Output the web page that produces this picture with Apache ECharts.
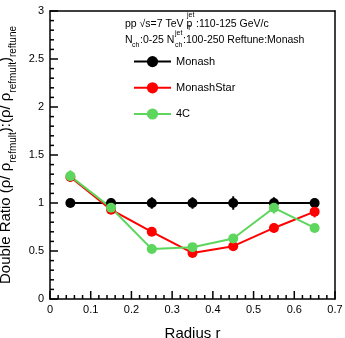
<!DOCTYPE html>
<html>
<head>
<meta charset="utf-8">
<script src="https://cdn.jsdelivr.net/npm/echarts@6/dist/echarts.min.js"></script>
<style>
  html, body { margin: 0; padding: 0; background: #fff; }
  #chart { width: 345px; height: 338px; }
</style>
</head>
<body>
<div id="chart"></div>
<script>
// radius bin centres
const radius = [0.05, 0.15, 0.25, 0.35, 0.45, 0.55, 0.65]

const monash = [1.0, 1.0, 1.0, 1.0, 1.0, 1.0, 1.0]
const monashErr = [0.03, 0.05, 0.06, 0.06, 0.07, 0.06, 0.05]

const monashStar = [1.27, 0.93, 0.70, 0.48, 0.55, 0.74, 0.91]
const monashStarErr = [0.05, 0.04, 0.03, 0.04, 0.04, 0.05, 0.06]

const fourC = [1.28, 0.95, 0.52, 0.54, 0.63, 0.95, 0.74]
const fourCErr = [0.06, 0.04, 0.03, 0.03, 0.04, 0.06, 0.04]

// major tick values (labels come from the axes)
const xTicks = [0, 0.1, 0.2, 0.3, 0.4, 0.5, 0.6, 0.7]
const yTicks = [0, 0.5, 1, 1.5, 2, 2.5, 3]
const xMinorDiv = 5
const yMinorDiv = 5

const font = 'Liberation Sans, Arial, sans-serif'

const chart = echarts.init(document.getElementById('chart'))

function points(ys) {
  return radius.map((x, i) => [x, ys[i]])
}

function errorBars(name, ys, errs, color) {
  return {
    name: name + ' err',
    type: 'custom',
    z: 1,
    silent: true,
    data: radius.map((x, i) => [x, ys[i], errs[i]]),
    encode: { x: 0, y: 1 },
    renderItem(params, api) {
      const x = api.value(0), y = api.value(1), e = api.value(2)
      const lo = api.coord([x, y - e])
      const hi = api.coord([x, y + e])
      return {
        type: 'line',
        shape: { x1: lo[0], y1: lo[1], x2: hi[0], y2: hi[1] },
        style: { stroke: color, lineWidth: 2 }
      }
    }
  }
}

function lineSeries(name, ys, color) {
  return {
    name: name,
    type: 'line',
    z: 3,
    data: points(ys),
    symbol: 'circle',
    symbolSize: 10,
    lineStyle: { color: color, width: 2 },
    itemStyle: { color: color },
    emphasis: { disabled: true },
    animation: false
  }
}

// ROOT-style inward ticks: [x, y, length, dir] dir 0 = on x axis, 1 = on y axis
const tickData = []
xTicks.forEach((v, i) => {
  tickData.push([v, 0, 8, 0])
  if (i < xTicks.length - 1) {
    const step = (xTicks[i + 1] - v) / xMinorDiv
    for (let k = 1; k < xMinorDiv; k++) tickData.push([v + k * step, 0, 4, 0])
  }
})
yTicks.forEach((v, i) => {
  tickData.push([0, v, 8, 1])
  if (i < yTicks.length - 1) {
    const step = (yTicks[i + 1] - v) / yMinorDiv
    for (let k = 1; k < yMinorDiv; k++) tickData.push([0, v + k * step, 4, 1])
  }
})

const tickSeries = {
  name: 'ticks',
  type: 'custom',
  z: 5,
  silent: true,
  data: tickData,
  encode: { x: 0, y: 1 },
  renderItem(params, api) {
    const p = api.coord([api.value(0), api.value(1)])
    const len = api.value(2)
    const shape = api.value(3) === 0
      ? { x1: p[0], y1: p[1], x2: p[0], y2: p[1] - len }
      : { x1: p[0], y1: p[1], x2: p[0] + len, y2: p[1] }
    return { type: 'line', shape: shape, style: { stroke: '#000', lineWidth: 1.5 } }
  }
}

const txt = (x, y, text, size) => ({
  type: 'text', left: x, top: y, z: 10,
  style: { text: text, fontFamily: font, fontSize: size, fill: '#000' }
})

// plain axis used only to close the frame on the top / right
const frameAxis = (pos, min, max) => ({
  type: 'value', position: pos, min: min, max: max,
  axisLine: { show: true, onZero: false, lineStyle: { color: '#000', width: 1.5 } },
  axisTick: { show: false }, axisLabel: { show: false }, splitLine: { show: false }
})

chart.setOption({
  animation: false,
  grid: { left: 50, right: 10, top: 11, bottom: 39, outerBoundsMode: 'none' },
  legend: {
    orient: 'vertical',
    left: 128, top: 51,
    itemWidth: 37, itemHeight: 14, itemGap: 15,
    data: ['Monash', 'MonashStar', '4C'],
    textStyle: { fontFamily: font, fontSize: 11, color: '#000' },
    selectedMode: false
  },
  xAxis: [{
    type: 'value',
    position: 'bottom',
    min: 0, max: 0.7, interval: 0.1,
    name: 'Radius r',
    nameLocation: 'middle',
    nameGap: 27,
    nameTextStyle: { fontFamily: font, fontSize: 15, color: '#000' },
    axisLine: { show: true, onZero: false, lineStyle: { color: '#000', width: 1.5 } },
    axisTick: { show: false },
    axisLabel: { fontFamily: font, fontSize: 11, color: '#000', margin: 5 },
    splitLine: { show: false }
  }, frameAxis('top', 0, 0.7)],
  yAxis: [{
    type: 'value',
    position: 'left',
    min: 0, max: 3, interval: 0.5,
    name: '{n|Double Ratio (ρ/ ρ}{s|refmult}{n|):(ρ/ ρ}{s|refmult}{n|)}{s|reftune}',
    nameLocation: 'middle',
    nameGap: 22,
    nameTextStyle: {
      fontFamily: font, color: '#000',
      rich: {
        n: { fontFamily: font, fontSize: 15, color: '#000', lineHeight: 24, verticalAlign: 'middle' },
        s: { fontFamily: font, fontSize: 10, color: '#000', lineHeight: 10, verticalAlign: 'bottom' }
      }
    },
    axisLine: { show: true, onZero: false, lineStyle: { color: '#000', width: 1.5 } },
    axisTick: { show: false },
    axisLabel: { fontFamily: font, fontSize: 11, color: '#000', margin: 6 },
    splitLine: { show: false }
  }, frameAxis('right', 0, 3)],
  graphic: [
    txt(125, 19, 'pp √s=7 TeV p', 10.5),
    txt(187, 12, 'jet', 7),
    txt(187, 25, 'T', 7),
    txt(196, 19, ':110-125 GeV/c', 10.5),
    txt(125, 35, 'N', 10.5),
    txt(132, 42, 'ch', 7),
    txt(140, 35, ':0-25 N', 10.5),
    txt(175, 30, 'jet', 7),
    txt(175, 42, 'ch', 7),
    txt(183, 35, ':100-250 Reftune:Monash', 10.5)
  ],
  series: [
    errorBars('Monash', monash, monashErr, '#000000'),
    errorBars('MonashStar', monashStar, monashStarErr, '#ff0000'),
    errorBars('4C', fourC, fourCErr, '#5cd65c'),
    lineSeries('Monash', monash, '#000000'),
    lineSeries('MonashStar', monashStar, '#ff0000'),
    lineSeries('4C', fourC, '#5cd65c'),
    tickSeries
  ]
})
</script>
</body>
</html>
